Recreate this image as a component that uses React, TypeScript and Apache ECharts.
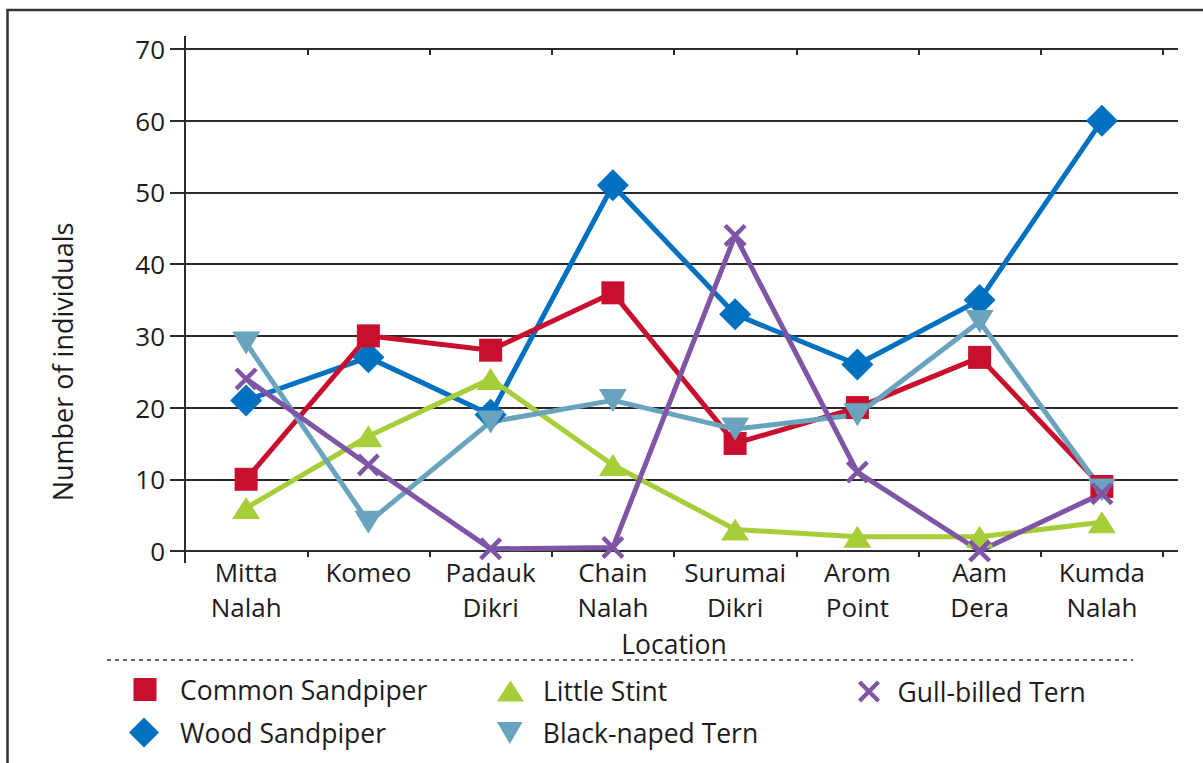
import React, { useEffect, useRef } from "react";
import * as echarts from "echarts";

const locations = [
  "Mitta\nNalah",
  "Komeo",
  "Padauk\nDikri",
  "Chain\nNalah",
  "Surumai\nDikri",
  "Arom\nPoint",
  "Aam\nDera",
  "Kumda\nNalah",
];

const commonSandpiper = [10, 30, 28, 36, 15, 20, 27, 9];
const woodSandpiper = [21, 27, 19, 51, 33, 26, 35, 60];
const littleStint = [6, 16, 24, 12, 3, 2, 2, 4];
const blackNapedTern = [29, 4, 18, 21, 17, 19, 32, 8.5];
const gullBilledTern = [24, 12, 0.3, 0.5, 44, 11, 0, 8];

const yTicks = [0, 10, 20, 30, 40, 50, 60, 70];

const FONT = "'Open Sans', 'Noto Sans', sans-serif";
const TEXT = "#1f1b1c";
const AXIS = "#2a2a2a";

const DOWN_TRI = "path://M0,0 L10,0 L5,8.6 Z";
const CROSS =
  "path://M0,3 L3,0 L11,8 L19,0 L22,3 L14,11 L22,19 L19,22 L11,14 L3,22 L0,19 L8,11 Z";

const C_RED = "#C8102E";
const C_BLUE = "#0070C0";
const C_GREEN = "#A6CE39";
const C_LBLUE = "#6AA3BE";
const C_PURPLE = "#7F55A5";

function makeLegend(
  name: string,
  icon: string,
  left: number,
  top: number,
  w: number,
  h: number,
  pad: number
) {
  return {
    data: [{ name, icon }],
    left,
    top,
    itemWidth: w,
    itemHeight: h,
    selectedMode: false,
    orient: "vertical",
    padding: 0,
    textStyle: {
      fontFamily: FONT,
      fontSize: 26.5,
      color: TEXT,
      padding: [0, 0, 0, pad],
    },
  };
}

export default function App() {
  const ref = useRef<HTMLDivElement>(null);

  useEffect(() => {
    if (!ref.current) return;
    const chart = echarts.init(ref.current, undefined, { renderer: "svg" });

    const lineSeries = (
      name: string,
      data: number[],
      color: string,
      symbol: string,
      symbolSize: number | number[]
    ) => ({
      name,
      type: "line",
      xAxisIndex: 1,
      yAxisIndex: 1,
      data,
      symbol,
      symbolSize,
      showAllSymbol: true,
      lineStyle: { color, width: 5 },
      itemStyle: { color },
      emphasis: { disabled: true },
    });

    chart.setOption({
      animation: false,
      backgroundColor: "#ffffff",
      textStyle: { fontFamily: FONT, color: TEXT },
      grid: [
        { left: 185, top: 49, width: 993, height: 502 },
        { left: 185, top: 49, width: 978, height: 502 },
      ],
      xAxis: [
        { type: "value", gridIndex: 0, min: 0, max: 1, show: false },
        {
          type: "category",
          gridIndex: 1,
          data: locations,
          boundaryGap: true,
          axisLine: { show: false },
          axisTick: { show: true, length: 6, lineStyle: { color: AXIS, width: 2 } },
          axisLabel: {
            fontFamily: FONT,
            fontSize: 26,
            color: TEXT,
            lineHeight: 35,
            margin: 3,
            interval: 0,
          },
          name: "Location",
          nameLocation: "middle",
          nameGap: 73,
          nameTextStyle: { fontFamily: FONT, fontSize: 26.5, color: TEXT, lineHeight: 30 },
        },
        {
          type: "category",
          gridIndex: 1,
          data: locations,
          boundaryGap: true,
          axisLine: { show: false },
          axisTick: { show: true, inside: true, length: 6, lineStyle: { color: AXIS, width: 2 } },
          axisLabel: { show: false },
        },
      ],
      yAxis: [
        {
          type: "value",
          gridIndex: 0,
          min: yTicks[0],
          max: yTicks[yTicks.length - 1],
          interval: 10,
          axisLine: { show: false },
          axisTick: { show: true, length: 15, lineStyle: { color: AXIS, width: 2 } },
          axisLabel: { fontFamily: FONT, fontSize: 26, color: TEXT, margin: 20 },
          splitLine: { show: true, lineStyle: { color: AXIS, width: 2 } },
          name: "Number of individuals",
          nameLocation: "middle",
          nameRotate: 90,
          nameGap: 108,
          nameTextStyle: {
            fontFamily: FONT,
            fontSize: 27,
            color: TEXT,
            lineHeight: 30,
            padding: [0, 124, 0, 0],
          },
        },
        {
          type: "value",
          gridIndex: 1,
          min: yTicks[0],
          max: yTicks[yTicks.length - 1],
          interval: 10,
          show: false,
        },
      ],
      legend: [
        makeLegend("Common Sandpiper", "rect", 133.5, 676, 23, 23, 18.5),
        makeLegend("Wood Sandpiper", "diamond", 129, 717.5, 30, 30, 16),
        makeLegend("Little Stint", "triangle", 497, 677.5, 27, 21, 14),
        makeLegend("Black-naped Tern", DOWN_TRI, 497, 719.5, 26, 22, 15),
        makeLegend("Gull-billed Tern", CROSS, 858, 678, 23, 22, 12),
      ],
      graphic: [
        {
          type: "rect",
          shape: { x: 7.5, y: 10, width: 1300, height: 900 },
          style: { fill: "none", stroke: "#333", lineWidth: 2.5 },
          silent: true,
        },
        {
          type: "line",
          shape: { x1: 185, y1: 36, x2: 185, y2: 563 },
          style: { stroke: AXIS, lineWidth: 2 },
          silent: true,
        },
        {
          type: "line",
          shape: { x1: 107, y1: 660, x2: 1133, y2: 660 },
          style: { stroke: "#333", lineWidth: 1.5, lineDash: [4, 4] },
          silent: true,
        },
      ],
      series: [
        lineSeries("Wood Sandpiper", woodSandpiper, C_BLUE, "diamond", 32),
        lineSeries("Common Sandpiper", commonSandpiper, C_RED, "rect", 23),
        lineSeries("Little Stint", littleStint, C_GREEN, "triangle", [28, 22]),
        lineSeries("Black-naped Tern", blackNapedTern, C_LBLUE, DOWN_TRI, [28, 23]),
        lineSeries("Gull-billed Tern", gullBilledTern, C_PURPLE, CROSS, 23),
      ],
    });

    return () => chart.dispose();
  }, []);

  return (
    <div
      ref={ref}
      style={{ position: "fixed", left: 0, top: 0, width: 1203, height: 763, background: "#fff" }}
    />
  );
}
